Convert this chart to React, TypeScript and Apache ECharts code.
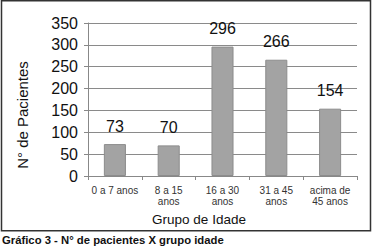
import React, { useEffect, useRef } from "react";
import * as echarts from "echarts";

const categories = ["0 a 7 anos", "8 a 15\nanos", "16 a 30\nanos", "31 a 45\nanos", "acima de\n45 anos"];
const patients = [73, 70, 296, 266, 154];
const yMin = 0;
const yMax = 350;
const yStep = 50;
const xTitle = "Grupo de Idade";
const yTitle = "N° de Pacientes";
const caption = "Gráfico 3 - N° de pacientes X grupo idade";

export default function App() {
  const ref = useRef<HTMLDivElement>(null);
  useEffect(() => {
    document.body.style.margin = "0";
    const chart = echarts.init(ref.current!, null, { renderer: "svg" });
    const font = "'Liberation Sans', Arial, sans-serif";
    chart.setOption({
      animation: false,
      backgroundColor: "#ffffff",
      textStyle: { fontFamily: font },
      grid: { left: 88, top: 23, right: 15, bottom: 72, containLabel: false },
      xAxis: {
        type: "category",
        data: categories,
        axisLine: { show: true, lineStyle: { color: "#888", width: 1 } },
        axisTick: { show: true, length: 4, lineStyle: { color: "#888" } },
        axisLabel: { interval: 0, color: "#333", fontSize: 10, lineHeight: 11, margin: 9, fontFamily: font },
      },
      yAxis: {
        type: "value",
        min: yMin,
        max: yMax,
        interval: yStep,
        axisLine: { show: true, lineStyle: { color: "#888", width: 1 } },
        axisTick: { show: true, length: 4, lineStyle: { color: "#888" } },
        axisLabel: { color: "#111", fontSize: 16, margin: 10, fontFamily: font },
        splitLine: { show: true, lineStyle: { color: "#8a8a8a", width: 1 } },
      },
      series: [
        {
          type: "bar",
          data: patients,
          barWidth: "41%",
          itemStyle: { color: "#a3a3a3", borderColor: "#8c8c8c", borderWidth: 1 },
          label: {
            show: true,
            position: "top",
            distance: 10,
            color: "#111",
            fontSize: 16,
            fontFamily: font,
          },
        },
      ],
      graphic: [
        {
          type: "rect",
          shape: { x: 1.5, y: 0.75, width: 369, height: 230 },
          style: { fill: "none", stroke: "#333", lineWidth: 1.5 },
          silent: true,
        },
        {
          type: "text",
          x: 199,
          y: 219,
          style: {
            text: xTitle,
            fontSize: 13.5,
            fontFamily: font,
            fill: "#111",
            align: "center",
            verticalAlign: "middle",
          },
        },
        {
          type: "text",
          x: 22,
          y: 115,
          rotation: Math.PI / 2,
          style: {
            text: yTitle,
            fontSize: 15,
            fontFamily: font,
            fill: "#111",
            align: "center",
            verticalAlign: "middle",
          },
        },
        {
          type: "text",
          x: 2,
          y: 240,
          style: {
            text: caption,
            fontSize: 11.3,
            fontWeight: "bold",
            fontFamily: font,
            fill: "#111",
            align: "left",
            verticalAlign: "middle",
          },
        },
      ],
    });
    return () => chart.dispose();
  }, []);
  return (
    <div
      ref={ref}
      style={{ position: "fixed", left: 0, top: 0, width: 372, height: 248 }}
    />
  );
}
